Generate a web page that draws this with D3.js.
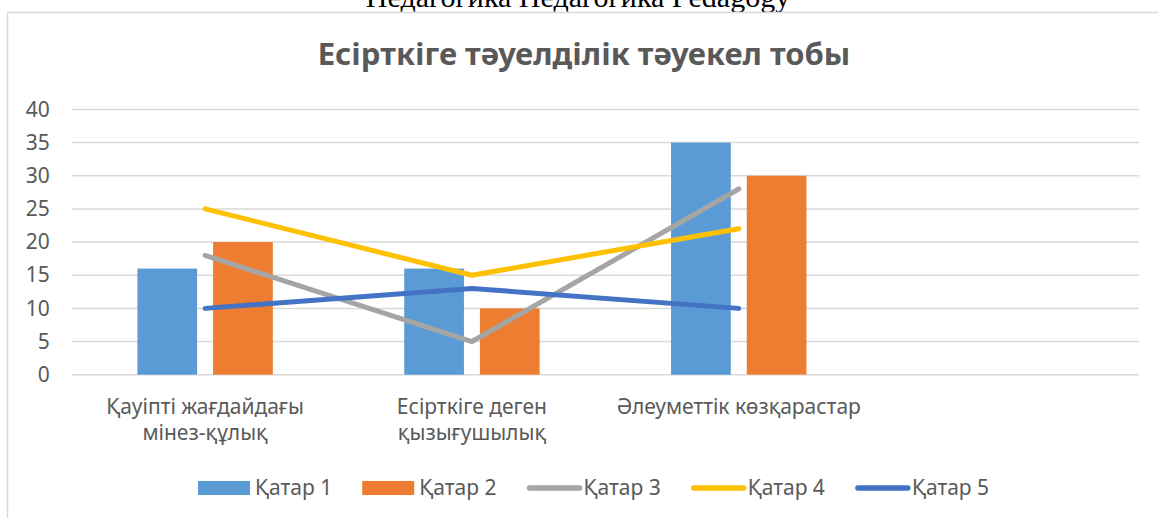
<!DOCTYPE html>
<html>
<head>
<meta charset="utf-8">
<script src="https://cdn.jsdelivr.net/npm/d3@7"></script>
<style>
    body { margin: 0; background: white; }
    svg { display: block; }
</style>
</head>
<body>
<div id="chart"></div>
<script>
const categories = ["Қауіпті жағдайдағы мінез-құлық", "Есірткіге деген қызығушылық", "Әлеуметтік көзқарастар", ""];
const barSeries = ["Қатар 1", "Қатар 2"];
const lineSeries = ["Қатар 3", "Қатар 4", "Қатар 5"];
const qatar1 = [16, 16, 35];
const qatar2 = [20, 10, 30];
const qatar3 = [18, 5, 28];
const qatar4 = [25, 15, 22];
const qatar5 = [10, 13, 10];
const yTicks = [0, 5, 10, 15, 20, 25, 30, 35, 40];

const colors = {
    "Қатар 1": "#5B9BD5",
    "Қатар 2": "#ED7D31",
    "Қатар 3": "#A5A5A5",
    "Қатар 4": "#FFC000",
    "Қатар 5": "#4472C4",
};
const values = {
    "Қатар 1": qatar1,
    "Қатар 2": qatar2,
    "Қатар 3": qatar3,
    "Қатар 4": qatar4,
    "Қатар 5": qatar5,
};

const width = 1158, height = 518;
const FONT = "'Noto Sans', 'Open Sans', sans-serif";
const TEXT_COLOR = "#595959";
const GRID_COLOR = "#d9d9d9";

const svg = d3.select("#chart").append("svg")
    .attr("width", width)
    .attr("height", height);

// page header that sits above the chart, cut off at the top
svg.append("text")
    .attr("x", 578)
    .attr("y", 7)
    .attr("text-anchor", "middle")
    .attr("font-family", "'Liberation Serif', 'Times New Roman', serif")
    .attr("font-size", 30)
    .attr("fill", "#000")
    .text("Педагогика Педагогика Pedagogy");

// chart frame
svg.append("rect")
    .attr("x", 7.5)
    .attr("y", 12.5)
    .attr("width", 1160)
    .attr("height", 520)
    .attr("fill", "white")
    .attr("stroke", GRID_COLOR)
    .attr("stroke-width", 1.5);

svg.append("text")
    .attr("x", 584)
    .attr("y", 65)
    .attr("text-anchor", "middle")
    .attr("font-family", FONT)
    .attr("font-weight", "bold")
    .attr("font-size", 31)
    .attr("fill", TEXT_COLOR)
    .text("Есірткіге тәуелділік тәуекел тобы");

const plot = { left: 71.7, right: 1139, top: 109.4, bottom: 374.7 };

const x = d3.scaleBand()
    .domain(categories.map((c, i) => i))
    .range([plot.left, plot.right])
    .padding(0);

const xBar = d3.scaleBand()
    .domain(barSeries)
    .range([0, x.bandwidth()])
    .paddingInner(0.211)
    .paddingOuter(0.868);

const y = d3.scaleLinear()
    .domain([0, 40])
    .range([plot.bottom, plot.top]);

// gridlines
svg.append("g")
    .selectAll("line")
    .data(yTicks)
    .join("line")
    .attr("x1", plot.left)
    .attr("x2", plot.right)
    .attr("y1", d => y(d))
    .attr("y2", d => y(d))
    .attr("stroke", GRID_COLOR)
    .attr("stroke-width", 1.5);

// y tick labels via axis
const yAxis = svg.append("g")
    .attr("transform", `translate(${plot.left},0)`)
    .call(d3.axisLeft(y).tickValues(yTicks).tickSize(0).tickPadding(22));
yAxis.select(".domain").remove();
yAxis.selectAll("text")
    .attr("font-family", FONT)
    .attr("font-size", 21)
    .attr("fill", TEXT_COLOR);

// bars
const barData = [];
barSeries.forEach(s => {
    values[s].forEach((v, i) => barData.push({ series: s, index: i, value: v }));
});

svg.append("g")
    .selectAll("rect")
    .data(barData)
    .join("rect")
    .attr("x", d => x(d.index) + xBar(d.series))
    .attr("y", d => y(d.value))
    .attr("width", xBar.bandwidth())
    .attr("height", d => y(0) - y(d.value))
    .attr("fill", d => colors[d.series]);

// lines
const line = d3.line()
    .x((d, i) => x(i) + x.bandwidth() / 2)
    .y(d => y(d));

svg.append("g")
    .selectAll("path")
    .data(lineSeries)
    .join("path")
    .attr("d", s => line(values[s]))
    .attr("fill", "none")
    .attr("stroke", s => colors[s])
    .attr("stroke-width", 5)
    .attr("stroke-linecap", "round")
    .attr("stroke-linejoin", "round");

// category labels, wrapped to band width
function wrapLabel(textEl, maxWidth) {
    const words = textEl.text().split(" ");
    const cx = textEl.attr("x");
    textEl.text(null);
    let lineWords = [];
    let tspan = textEl.append("tspan").attr("x", cx).attr("dy", 0);
    words.forEach(w => {
        lineWords.push(w);
        tspan.text(lineWords.join(" "));
        if (tspan.node().getComputedTextLength() > maxWidth && lineWords.length > 1) {
            lineWords.pop();
            tspan.text(lineWords.join(" "));
            lineWords = [w];
            tspan = textEl.append("tspan").attr("x", cx).attr("dy", 26).text(w);
        }
    });
}

svg.append("g")
    .selectAll("text")
    .data(categories)
    .join("text")
    .attr("x", (d, i) => x(i) + x.bandwidth() / 2)
    .attr("y", 414)
    .attr("text-anchor", "middle")
    .attr("font-family", FONT)
    .attr("font-size", 21)
    .attr("fill", TEXT_COLOR)
    .text(d => d)
    .each(function () { wrapLabel(d3.select(this), x.bandwidth() - 4); });

// legend
const legendItems = barSeries.map(s => ({ name: s, type: "bar" }))
    .concat(lineSeries.map(s => ({ name: s, type: "line" })));

const legend = svg.append("g");
let lx = 198;
const ly = 488;
legendItems.forEach(item => {
    const g = legend.append("g");
    let swatchW;
    if (item.type === "bar") {
        swatchW = 52;
        g.append("rect")
            .attr("x", lx)
            .attr("y", ly - 7)
            .attr("width", swatchW)
            .attr("height", 14)
            .attr("fill", colors[item.name]);
        lx += swatchW + 5;
    } else {
        swatchW = 56;
        g.append("line")
            .attr("x1", lx + 3)
            .attr("x2", lx + swatchW - 3)
            .attr("y1", ly)
            .attr("y2", ly)
            .attr("stroke", colors[item.name])
            .attr("stroke-width", 5.5)
            .attr("stroke-linecap", "round");
        lx += swatchW + 1;
    }
    const t = g.append("text")
        .attr("x", lx)
        .attr("y", ly)
        .attr("dy", "0.35em")
        .attr("font-family", FONT)
        .attr("font-size", 21)
        .attr("fill", TEXT_COLOR)
        .text(item.name);
    lx += t.node().getComputedTextLength() + 30;
});
</script>
</body>
</html>
